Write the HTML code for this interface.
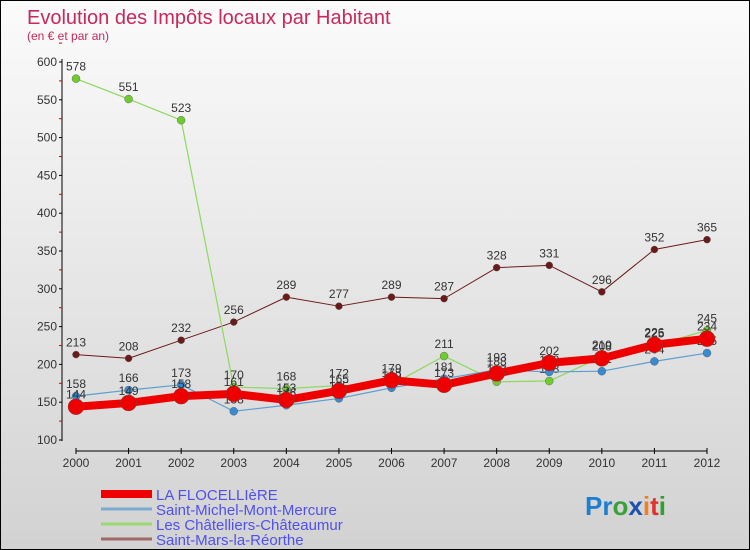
<!DOCTYPE html>
<html><head><meta charset="utf-8"><style>
body{margin:0}
#c{width:748px;height:548px;border:1px solid #000;background:linear-gradient(#fbfbfb,#d2d2d2);position:relative;overflow:hidden;font-family:"Liberation Sans",sans-serif}
</style></head><body>
<div id="c">
<svg id="s" width="748" height="548" xmlns="http://www.w3.org/2000/svg" style="position:absolute;left:0;top:0">
<text x="26" y="23" font-size="20" fill="#c8285a">Evolution des Impôts locaux par Habitant</text>
<text x="26" y="39" font-size="12" fill="#c8285a">(en € et par an)</text>
<g id="axes"></g><g id="series"></g><g id="legend"></g>
<text x="584" y="514" font-size="26" font-weight="bold"><tspan fill="#1e7fd0">Pr</tspan><tspan fill="#3aa03a">o</tspan><tspan fill="#1e50b0">x</tspan><tspan fill="#f08020">i</tspan><tspan fill="#e03030">t</tspan><tspan fill="#30a030">i</tspan></text>
</svg></div>
<script>
const years=[2000,2001,2002,2003,2004,2005,2006,2007,2008,2009,2010,2011,2012];
const yTicks=[100,150,200,250,300,350,400,450,500,550,600];
const flocelliere=[144,149,158,161,153,165,179,173,188,202,208,226,234];
const saintMichel=[158,166,173,138,146,155,169,181,193,190,191,204,215];
const chatelliers=[578,551,523,170,168,172,173,211,177,178,210,225,245];
const saintMars=[213,208,232,256,289,277,289,287,328,331,296,352,365];
const names=["LA FLOCELLIèRE","Saint-Michel-Mont-Mercure","Les Châtelliers-Châteaumur","Saint-Mars-la-Réorthe"];
const NS="http://www.w3.org/2000/svg";
const X=i=>75+i*(706-75)/(years.length-1);
const Y=v=>439-(v-100)*(439-61)/500;
function mk(t,a,p){const e=document.createElementNS(NS,t);for(const k in a)e.setAttribute(k,a[k]);p.appendChild(e);return e;}
const ax=document.getElementById('axes');
const yl=mk('line',{x1:61,y1:58,x2:61,y2:440,stroke:'#000'},ax);


yTicks.forEach(v=>{
 mk('line',{x1:58,x2:61,y1:Y(v),y2:Y(v),stroke:'#000'},ax);
 mk('line',{x1:58,x2:61,y1:Y(v+25),y2:Y(v+25),stroke:'#d00'},ax);
 const t=mk('text',{x:56,y:Y(v)+4,'font-size':12,fill:'#333','text-anchor':'end'},ax);t.textContent=v;
 
 
});
const xl=mk('line',{x1:75,y1:450,x2:706,y2:450,stroke:'#000'},ax);


years.forEach((y,i)=>{
 mk('line',{x1:X(i),x2:X(i),y1:447,y2:453,stroke:'#000'},ax);
 const t=mk('text',{x:X(i),y:466,'font-size':12,fill:'#333','text-anchor':'middle'},ax);t.textContent=y;
 
 
});
const sg=document.getElementById('series');
const defs=[[saintMars,'#6b1a1a','#6b1a1a',1,3.5],[chatelliers,'#8fd860','#6ccc30',1.2,4],[saintMichel,'#5a9fd0','#3a8ad0',1.2,4],[flocelliere,'#ee0000','#ee0000',8,8]];
const keys=['saint-mars','chatelliers','saint-michel','flocelliere'];
defs.forEach(([d,lc,dc,w,r],k)=>{
 const g=mk('g',{},sg);
 
 
 mk('polyline',{points:d.map((v,i)=>X(i)+','+Y(v)).join(' '),fill:'none',stroke:lc,'stroke-width':w,'stroke-linejoin':'round'},g);
 d.forEach((v,i)=>{
  const c=mk('circle',{cx:X(i),cy:Y(v),r:r,fill:dc,stroke:'#555','stroke-width':0.4},g);
  
  
  const t=mk('text',{x:X(i),y:Y(v)-8,'font-size':12,fill:'#333','text-anchor':'middle'},g);t.textContent=v;
  
  
 });
});
const lg=document.getElementById('legend');
const lcol=['#ee0000','#7aaad0','#9ad870','#a06868'];
names.forEach((n,i)=>{
 const y=493+i*15;
 const g=mk('g',{},lg);
 
 
 mk('line',{x1:100,x2:151,y1:y,y2:y,stroke:lcol[i],'stroke-width':i==0?8:3},g);
 const t=mk('text',{x:155,y:y+6,'font-size':15,fill:'#5050ee'},g);t.textContent=n;
});
</script>
</body></html>
